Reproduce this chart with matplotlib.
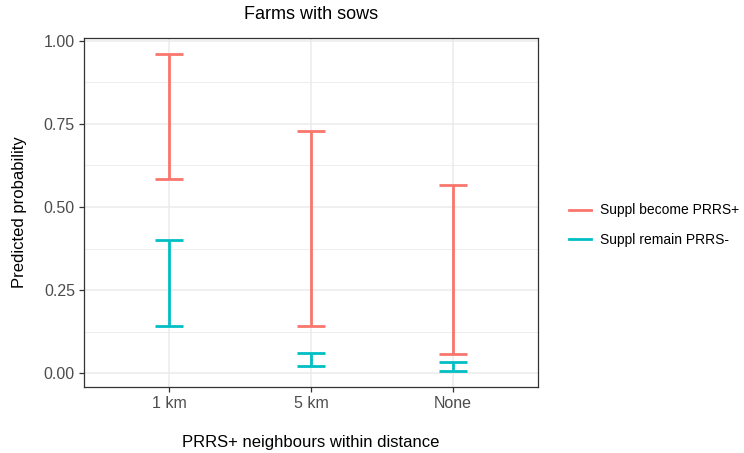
import matplotlib.pyplot as plt
import numpy as np
from matplotlib.lines import Line2D

plt.rcParams['font.family'] = ['Liberation Sans', 'DejaVu Sans']

categories = ["1 km", "5 km", "None"]
groups = ["Suppl become PRRS+", "Suppl remain PRRS-"]
colors = ["#F8766D", "#00BFC4"]
lower = {
    "Suppl become PRRS+": [0.583, 0.143, 0.057],
    "Suppl remain PRRS-": [0.143, 0.022, 0.007],
}
upper = {
    "Suppl become PRRS+": [0.960, 0.729, 0.565],
    "Suppl remain PRRS-": [0.400, 0.060, 0.035],
}
yticks = [0.0, 0.25, 0.5, 0.75, 1.0]
yticklabels = ["0.00", "0.25", "0.50", "0.75", "1.00"]

fig = plt.figure(figsize=(7.44, 4.53), dpi=100)
ax = fig.add_axes([84 / 744, 1 - 387 / 453, 454 / 744, 349 / 453])

x = np.arange(1, len(categories) + 1)
cap = 0.1
for g, c in zip(groups, colors):
    lo = lower[g]
    hi = upper[g]
    ax.vlines(x, lo, hi, color=c, lw=2, zorder=3)
    ax.hlines(lo, x - cap, x + cap, color=c, lw=2, zorder=3)
    ax.hlines(hi, x - cap, x + cap, color=c, lw=2, zorder=3)

ax.set_xlim(0.4, 3.6)
ax.set_ylim(-0.041, 1.008)
ax.set_xticks(x)
ax.set_xticklabels(categories)
ax.set_yticks(yticks)
ax.set_yticklabels(yticklabels)
ax.set_yticks([0.125, 0.375, 0.625, 0.875], minor=True)

ax.grid(True, which="major", color="#EBEBEB", lw=1.1, zorder=0)
ax.grid(True, which="minor", axis="y", color="#EBEBEB", lw=0.6, zorder=0)
ax.set_axisbelow(True)
for s in ax.spines.values():
    s.set_color("#333333")
    s.set_linewidth(0.9)
ax.tick_params(which="major", length=3.5, width=0.9, color="#333333",
               labelcolor="#4D4D4D", labelsize=11.5, pad=3)
ax.tick_params(which="minor", length=0)

ax.set_xlabel("PRRS+ neighbours within distance", fontsize=12, labelpad=17)
ax.set_ylabel("Predicted probability", fontsize=12, labelpad=12)
ax.set_title("Farms with sows", fontsize=13, pad=14)

handles = [Line2D([0], [0], color=c, lw=2) for c in colors]
fig.legend(handles, groups, loc="center left", bbox_to_anchor=(556 / 744, 1 - 225 / 453),
           frameon=False, fontsize=10, handlelength=1.6, handletextpad=0.7,
           labelspacing=1.1)

fig.savefig("out.png", dpi=100)
